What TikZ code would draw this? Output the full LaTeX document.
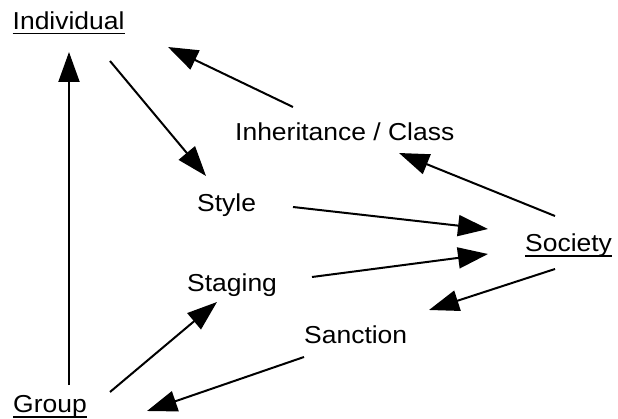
\documentclass[tikz,border=0pt]{standalone}
\usepackage{fontspec}
\setmainfont{Liberation Sans}[FakeStretch=1.08]
\usetikzlibrary{arrows.meta}
\begin{document}
\begin{tikzpicture}[x=1pt,y=-1pt,
  lbl/.style={inner sep=0pt,anchor=base west,font=\fontsize{24.5}{28}\selectfont},
  arr/.style={line width=2pt,-{Triangle[length=30pt 0 0,width=21pt 0 0]}},
  ul/.style={line width=1.5pt}]
\useasboundingbox (0,0) rectangle (618,419);
% labels
\node[lbl] (ind) at (12.5,29.3) {Individual};
\node[lbl] (inh) at (235,141) {Inheritance / Class};
\node[lbl] (sty) at (197,212) {Style};
\node[lbl] (soc) at (525,252) {Society};
\node[lbl] (sta) at (187,292) {Staging};
\node[lbl] (san) at (304,344) {Sanction};
\node[lbl] (grp) at (13,412) {Group};
% underlines
\draw[ul] ([yshift=-4pt]ind.base west) -- ([yshift=-4pt]ind.base east);
\draw[ul] ([yshift=-4pt]soc.base west) -- ([yshift=-4pt]soc.base east);
\draw[ul] ([yshift=-5pt]grp.base west) -- ([yshift=-5pt]grp.base east);
% connector end points
\coordinate (g1) at (69,385);   \coordinate (i1) at (69,52);
\coordinate (i2) at (110,61);   \coordinate (s2) at (206,176);
\coordinate (h3) at (293,107);  \coordinate (i3) at (168,47);
\coordinate (o4) at (555,216);  \coordinate (h4) at (399,153);
\coordinate (s5) at (293,207);  \coordinate (o5) at (488,229);
\coordinate (t6) at (312,277);  \coordinate (o6) at (488,254);
\coordinate (o7) at (555,269);  \coordinate (n7) at (429,310);
\coordinate (g8) at (110,392);  \coordinate (t8) at (217,302);
\coordinate (n9) at (304,357);  \coordinate (g9) at (147,411);
% connectors
\draw[arr] (g1) -- (i1);
\draw[arr] (i2) -- (s2);
\draw[arr] (h3) -- (i3);
\draw[arr] (o4) -- (h4);
\draw[arr] (s5) -- (o5);
\draw[arr] (t6) -- (o6);
\draw[arr] (o7) -- (n7);
\draw[arr] (g8) -- (t8);
\draw[arr] (n9) -- (g9);
\end{tikzpicture}
\end{document}
